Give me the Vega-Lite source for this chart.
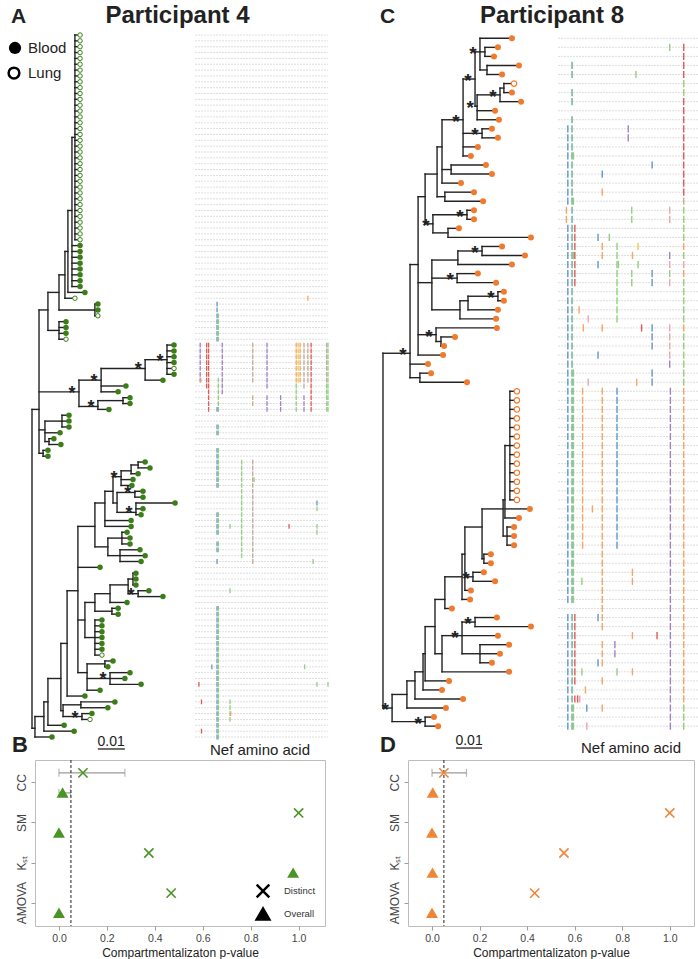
{
"padding": {"left": 3, "top": 0, "right": 0, "bottom": 0},
"background": "white",
"bounds": "full",
"spacing": 0,
"config": {"font": "Liberation Sans", "view": {"stroke": null}},
"datasets": {
"treeA": [
{"id":"R1","p":"R0","d":2.6,"pd":0,"y":64},
{"id":"Na","p":"R1","d":5.9,"pd":2.6,"y":47},
{"id":"Nb","p":"Na","d":10,"pd":5.9,"y":44},
{"id":"Nc","p":"Nb","d":12.2,"pd":10,"y":41},
{"id":"Nd","p":"Nc","d":13.3,"pd":12.2,"y":37},
{"id":"Ne","p":"Nd","d":14.8,"pd":13.3,"y":30},
{"id":"Ne2","p":"Ne","d":15.9,"pd":14.8,"y":17.5},
{"id":"N3","p":"Nb","d":23.3,"pd":10,"y":47},
{"id":"N4","p":"Na","d":10,"pd":5.9,"y":50.5},
{"id":"S","p":"R1","d":17.4,"pd":2.6,"y":61,"s":1},
{"id":"S1","p":"S","d":25.6,"pd":17.4,"y":59,"s":1},
{"id":"S2","p":"S1","d":41.9,"pd":25.6,"y":57,"s":1},
{"id":"S3","p":"S2","d":50,"pd":41.9,"y":55.5,"s":1},
{"id":"S5","p":"S","d":24.4,"pd":17.4,"y":63.5,"s":1},
{"id":"S4","p":"S5","d":33.7,"pd":24.4,"y":62.5},
{"id":"T2","p":"R1","d":4.8,"pd":2.6,"y":67.5},
{"id":"T3","p":"T2","d":11.1,"pd":4.8,"y":66},
{"id":"T2b","p":"T2","d":6.3,"pd":4.8,"y":69.5},
{"id":"Tc","p":"R1","d":4.1,"pd":2.6,"y":71.5},
{"id":"M30","p":"R0","d":1.1,"pd":0,"y":118.5},
{"id":"M39","p":"M30","d":4.4,"pd":1.1,"y":116.5},
{"id":"M43","p":"M39","d":5.9,"pd":4.4,"y":114},
{"id":"M56","p":"M43","d":10.7,"pd":5.9,"y":110},
{"id":"M62","p":"M56","d":13,"pd":10.7,"y":104},
{"id":"Lmn","p":"M56","d":11.5,"pd":10.7,"y":115.5},
{"id":"Lm","p":"Lmn","d":18.1,"pd":11.5,"y":114.5},
{"id":"Ln","p":"Lmn","d":18.5,"pd":11.5,"y":116.5,"s":1},
{"id":"M72","p":"M62","d":17,"pd":13,"y":95},
{"id":"U","p":"M72","d":23.3,"pd":17,"y":84},
{"id":"Lg","p":"M72","d":19.6,"pd":17,"y":100},
{"id":"Lk","p":"M72","d":20.4,"pd":17,"y":109},
{"id":"U3","p":"U","d":27,"pd":23.3,"y":80},
{"id":"U4","p":"U","d":28.1,"pd":23.3,"y":87.5},
{"id":"U12","p":"U3","d":30,"pd":27,"y":78},
{"id":"U1","p":"U12","d":33,"pd":30,"y":75.5,"s":1},
{"id":"U2","p":"U12","d":31.5,"pd":30,"y":80},
{"id":"Ub","p":"U1","d":36.7,"pd":33,"y":74.5},
{"id":"Ua","p":"Ub","d":39.3,"pd":36.7,"y":73.5},
{"id":"U2a","p":"U2","d":38.1,"pd":31.5,"y":78.2,"s":1},
{"id":"U2b","p":"U2","d":38.5,"pd":31.5,"y":81.6,"s":1},
{"id":"U4a","p":"U4","d":33.3,"pd":28.1,"y":86},
{"id":"U4b","p":"U4","d":32.6,"pd":28.1,"y":89},
{"id":"Le","p":"Lg","d":23.3,"pd":19.6,"y":97},
{"id":"Lf","p":"Lg","d":23.3,"pd":19.6,"y":103},
{"id":"Lc","p":"Le","d":28.9,"pd":23.3,"y":95.5},
{"id":"Ld","p":"Le","d":29.6,"pd":23.3,"y":98.5},
{"id":"Lab","p":"Lc","d":35.6,"pd":28.9,"y":94},
{"id":"La","p":"Lab","d":37.4,"pd":35.6,"y":93},
{"id":"Lb","p":"Lab","d":39.3,"pd":35.6,"y":95.5,"s":1},
{"id":"Li","p":"Lk","d":27,"pd":20.4,"y":107.5},
{"id":"Lj","p":"Lk","d":28.9,"pd":20.4,"y":110,"s":1},
{"p":"Ne2","d":17.8,"pd":15.9,"y":0,"t":"L"},
{"p":"Ne2","d":17.8,"pd":15.9,"y":1,"t":"L"},
{"p":"Ne2","d":17.8,"pd":15.9,"y":2,"t":"L"},
{"p":"Ne2","d":17.8,"pd":15.9,"y":3,"t":"L"},
{"p":"Ne2","d":17.8,"pd":15.9,"y":4,"t":"L"},
{"p":"Ne2","d":17.8,"pd":15.9,"y":5,"t":"L"},
{"p":"Ne2","d":17.8,"pd":15.9,"y":6,"t":"L"},
{"p":"Ne2","d":17.8,"pd":15.9,"y":7,"t":"L"},
{"p":"Ne2","d":17.8,"pd":15.9,"y":8,"t":"L"},
{"p":"Ne2","d":17.8,"pd":15.9,"y":9,"t":"L"},
{"p":"Ne2","d":17.8,"pd":15.9,"y":10,"t":"L"},
{"p":"Ne2","d":17.8,"pd":15.9,"y":11,"t":"L"},
{"p":"Ne2","d":17.8,"pd":15.9,"y":12,"t":"L"},
{"p":"Ne2","d":17.8,"pd":15.9,"y":13,"t":"L"},
{"p":"Ne2","d":17.8,"pd":15.9,"y":14,"t":"L"},
{"p":"Ne2","d":17.8,"pd":15.9,"y":15,"t":"L"},
{"p":"Ne2","d":17.8,"pd":15.9,"y":16,"t":"L"},
{"p":"Ne2","d":17.8,"pd":15.9,"y":17,"t":"L"},
{"p":"Ne2","d":17.8,"pd":15.9,"y":18,"t":"L"},
{"p":"Ne2","d":17.8,"pd":15.9,"y":19,"t":"L"},
{"p":"Ne2","d":17.8,"pd":15.9,"y":20,"t":"L"},
{"p":"Ne2","d":17.8,"pd":15.9,"y":21,"t":"L"},
{"p":"Ne2","d":17.8,"pd":15.9,"y":22,"t":"L"},
{"p":"Ne2","d":17.8,"pd":15.9,"y":23,"t":"L"},
{"p":"Ne2","d":17.8,"pd":15.9,"y":24,"t":"L"},
{"p":"Ne2","d":17.8,"pd":15.9,"y":25,"t":"L"},
{"p":"Ne2","d":17.8,"pd":15.9,"y":26,"t":"L"},
{"p":"Ne2","d":17.8,"pd":15.9,"y":27,"t":"L"},
{"p":"Ne2","d":17.8,"pd":15.9,"y":28,"t":"L"},
{"p":"Ne2","d":17.8,"pd":15.9,"y":29,"t":"L"},
{"p":"Ne2","d":17.8,"pd":15.9,"y":30,"t":"L"},
{"p":"Ne2","d":17.8,"pd":15.9,"y":31,"t":"L"},
{"p":"Ne2","d":17.8,"pd":15.9,"y":32,"t":"L"},
{"p":"Ne2","d":17.8,"pd":15.9,"y":33,"t":"L"},
{"p":"Ne2","d":17.8,"pd":15.9,"y":34,"t":"L"},
{"p":"Ne2","d":17.8,"pd":15.9,"y":35,"t":"L"},
{"p":"Ne","d":17.8,"pd":14.8,"y":36,"t":"B"},
{"p":"Ne","d":17.8,"pd":14.8,"y":37,"t":"B"},
{"p":"Ne","d":17.8,"pd":14.8,"y":38,"t":"B"},
{"p":"Ne","d":17.8,"pd":14.8,"y":39,"t":"B"},
{"p":"Ne","d":17.8,"pd":14.8,"y":40,"t":"B"},
{"p":"Ne","d":17.8,"pd":14.8,"y":41,"t":"B"},
{"p":"Ne","d":17.8,"pd":14.8,"y":42,"t":"B"},
{"p":"Ne","d":17.8,"pd":14.8,"y":43,"t":"B"},
{"p":"Nd","d":19.6,"pd":13.3,"y":44,"t":"B"},
{"p":"Nc","d":15.9,"pd":12.2,"y":45,"t":"L"},
{"p":"N3","d":24.4,"pd":23.3,"y":46,"t":"B"},
{"p":"N3","d":24.4,"pd":23.3,"y":47,"t":"B"},
{"p":"N3","d":24.4,"pd":23.3,"y":48,"t":"L"},
{"p":"N4","d":12.6,"pd":10,"y":49,"t":"B"},
{"p":"N4","d":12.6,"pd":10,"y":50,"t":"B"},
{"p":"N4","d":12.6,"pd":10,"y":51,"t":"B"},
{"p":"N4","d":12.6,"pd":10,"y":52,"t":"L"},
{"p":"S3","d":52.6,"pd":50,"y":53,"t":"B"},
{"p":"S3","d":52.6,"pd":50,"y":54,"t":"B"},
{"p":"S3","d":52.6,"pd":50,"y":55,"t":"B"},
{"p":"S3","d":52.6,"pd":50,"y":56,"t":"B"},
{"p":"S3","d":52.6,"pd":50,"y":57,"t":"L"},
{"p":"S3","d":52.6,"pd":50,"y":58,"t":"B"},
{"p":"S2","d":48.5,"pd":41.9,"y":59,"t":"B"},
{"p":"S1","d":34.8,"pd":25.6,"y":60,"t":"B"},
{"p":"S1","d":31.9,"pd":25.6,"y":61,"t":"B"},
{"p":"S4","d":36.3,"pd":33.7,"y":62,"t":"B"},
{"p":"S4","d":36.3,"pd":33.7,"y":63,"t":"B"},
{"p":"S5","d":28.5,"pd":24.4,"y":64,"t":"B"},
{"p":"T3","d":13.7,"pd":11.1,"y":65,"t":"B"},
{"p":"T3","d":13.7,"pd":11.1,"y":66,"t":"B"},
{"p":"T3","d":13.7,"pd":11.1,"y":67,"t":"B"},
{"p":"T2","d":10.4,"pd":4.8,"y":68,"t":"B"},
{"p":"T2b","d":8.1,"pd":6.3,"y":69,"t":"B"},
{"p":"T2b","d":10.7,"pd":6.3,"y":70,"t":"B"},
{"p":"Tc","d":5.9,"pd":4.1,"y":71,"t":"B"},
{"p":"Tc","d":5.9,"pd":4.1,"y":72,"t":"B"},
{"p":"Ua","d":41.9,"pd":39.3,"y":73,"t":"B"},
{"p":"Ua","d":43.7,"pd":39.3,"y":74,"t":"B"},
{"p":"Ub","d":39.3,"pd":36.7,"y":75,"t":"B"},
{"p":"U1","d":37.4,"pd":33,"y":76,"t":"B"},
{"p":"U1","d":37,"pd":33,"y":77,"t":"B"},
{"p":"U2a","d":41.1,"pd":38.1,"y":78,"t":"B"},
{"p":"U2a","d":41.1,"pd":38.1,"y":79,"t":"B"},
{"p":"U2b","d":53,"pd":38.5,"y":80,"t":"B"},
{"p":"U2b","d":41.1,"pd":38.5,"y":81,"t":"B"},
{"p":"U2b","d":40.4,"pd":38.5,"y":82,"t":"B"},
{"p":"U3","d":36.7,"pd":27,"y":83,"t":"B"},
{"p":"U3","d":36.7,"pd":27,"y":84,"t":"B"},
{"p":"U4a","d":35.2,"pd":33.3,"y":85,"t":"B"},
{"p":"U4a","d":36.3,"pd":33.3,"y":86,"t":"B"},
{"p":"U4a","d":36.3,"pd":33.3,"y":87,"t":"B"},
{"p":"U4b","d":40,"pd":32.6,"y":88,"t":"B"},
{"p":"U4b","d":41.9,"pd":32.6,"y":89,"t":"B"},
{"p":"U4b","d":40.4,"pd":32.6,"y":90,"t":"B"},
{"p":"M72","d":25.2,"pd":17,"y":91,"t":"B"},
{"p":"La","d":38.5,"pd":37.4,"y":92,"t":"B"},
{"p":"La","d":38.5,"pd":37.4,"y":93,"t":"B"},
{"p":"La","d":38.5,"pd":37.4,"y":94,"t":"B"},
{"p":"Lb","d":43.3,"pd":39.3,"y":95,"t":"B"},
{"p":"Lb","d":48.5,"pd":39.3,"y":96,"t":"B"},
{"p":"Lc","d":35.2,"pd":28.9,"y":97,"t":"B"},
{"p":"Ld","d":31.9,"pd":29.6,"y":98,"t":"B"},
{"p":"Ld","d":31.9,"pd":29.6,"y":99,"t":"B"},
{"p":"Lf","d":25.9,"pd":23.3,"y":100,"t":"B"},
{"p":"Lf","d":25.9,"pd":23.3,"y":101,"t":"B"},
{"p":"Lf","d":25.9,"pd":23.3,"y":102,"t":"B"},
{"p":"Lf","d":25.9,"pd":23.3,"y":103,"t":"B"},
{"p":"Lf","d":25.9,"pd":23.3,"y":104,"t":"B"},
{"p":"Lf","d":25.9,"pd":23.3,"y":105,"t":"B"},
{"p":"Lf","d":25.9,"pd":23.3,"y":106,"t":"L"},
{"p":"Li","d":30,"pd":27,"y":107,"t":"B"},
{"p":"Li","d":28.1,"pd":27,"y":108,"t":"B"},
{"p":"Lj","d":36.3,"pd":28.9,"y":109,"t":"B"},
{"p":"Lj","d":34.4,"pd":28.9,"y":110,"t":"B"},
{"p":"Lj","d":40.4,"pd":28.9,"y":111,"t":"B"},
{"p":"Lk","d":25.2,"pd":20.4,"y":112,"t":"B"},
{"p":"M62","d":19.6,"pd":13,"y":113,"t":"B"},
{"p":"Lm","d":30.7,"pd":18.1,"y":114,"t":"B"},
{"p":"Lm","d":28.1,"pd":18.1,"y":115,"t":"B"},
{"p":"Ln","d":22.2,"pd":18.5,"y":116,"t":"B"},
{"p":"Ln","d":21.5,"pd":18.5,"y":117,"t":"L"},
{"p":"M43","d":11.9,"pd":5.9,"y":118,"t":"B"},
{"p":"M39","d":15.6,"pd":4.4,"y":119,"t":"B"},
{"p":"M30","d":7.4,"pd":1.1,"y":120,"t":"B"}
],
"treeC": [
{"id":"C28","p":"RC","d":10.4,"pd":0,"y":34.8,"s":1},
{"id":"CL18","p":"RC","d":3.5,"pd":0,"y":74,"s":1},
{"id":"C25","p":"C28","d":13.5,"pd":10.4,"y":25},
{"id":"C27","p":"C28","d":14.2,"pd":10.4,"y":37.5},
{"id":"C14","p":"C25","d":16.2,"pd":13.5,"y":17.5},
{"id":"C22","p":"C25","d":18.8,"pd":13.5,"y":27},
{"id":"C24","p":"C25","d":20.4,"pd":13.5,"y":32.75,"s":1},
{"id":"C10","p":"C14","d":20.8,"pd":16.2,"y":15},
{"id":"C12","p":"C14","d":19.2,"pd":16.2,"y":20.5,"s":1},
{"id":"C8","p":"C10","d":22.7,"pd":20.8,"y":12},
{"id":"C9","p":"C10","d":23.8,"pd":20.8,"y":17.5},
{"id":"C6","p":"C8","d":30.8,"pd":22.7,"y":9,"s":1},
{"id":"C7","p":"C8","d":26.2,"pd":22.7,"y":14.5},
{"id":"C13","p":"C6","d":35.4,"pd":30.8,"y":4.5,"s":1},
{"id":"C5","p":"C6","d":38.1,"pd":30.8,"y":10.5,"s":1},
{"id":"C1","p":"C13","d":37.3,"pd":35.4,"y":1.5,"s":1},
{"id":"C3","p":"C13","d":36.2,"pd":35.4,"y":7.5,"s":1},
{"id":"C1a","p":"C1","d":39.2,"pd":37.3,"y":1.5},
{"id":"C1b","p":"C1","d":40,"pd":37.3,"y":3.5},
{"id":"C2","p":"C3","d":45,"pd":36.2,"y":6.25,"s":1},
{"id":"C2a","p":"C2","d":46.5,"pd":45,"y":5.5},
{"id":"C11","p":"C12","d":32.3,"pd":19.2,"y":19.5,"s":1},
{"id":"C12a","p":"C12","d":25,"pd":19.2,"y":21.5},
{"id":"C16","p":"C22","d":28.8,"pd":18.8,"y":24.5},
{"id":"C15","p":"C16","d":38.1,"pd":28.8,"y":23.5,"s":1},
{"id":"C17","p":"C22","d":28.5,"pd":18.8,"y":26.5,"s":1},
{"id":"C20","p":"C22","d":29.6,"pd":18.8,"y":30},
{"id":"C19","p":"C20","d":32.7,"pd":29.6,"y":29},
{"id":"C18","p":"C19","d":44.2,"pd":32.7,"y":28.5,"s":1},
{"id":"C24a","p":"C24","d":22.3,"pd":20.4,"y":33.5},
{"id":"CL16","p":"CL18","d":9.2,"pd":3.5,"y":72.5},
{"id":"CL17","p":"CL18","d":16.2,"pd":3.5,"y":75.5,"s":1},
{"id":"CL15","p":"CL16","d":12.3,"pd":9.2,"y":71},
{"id":"CL14","p":"CL15","d":15.4,"pd":12.3,"y":70},
{"id":"CL13","p":"CL14","d":16.2,"pd":15.4,"y":68},
{"id":"CL12","p":"CL13","d":20,"pd":16.2,"y":65},
{"id":"CL9","p":"CL12","d":23.8,"pd":20,"y":62},
{"id":"CL11","p":"CL12","d":22.7,"pd":20,"y":68},
{"id":"CL8","p":"CL9","d":30.4,"pd":23.8,"y":59.5},
{"id":"CL7","p":"CL8","d":31.5,"pd":30.4,"y":57},
{"id":"CL5","p":"CL7","d":38.1,"pd":31.5,"y":54},
{"id":"CL6","p":"CL7","d":34.6,"pd":31.5,"y":59.5,"s":1},
{"id":"CL4","p":"CL5","d":46.2,"pd":38.1,"y":52},
{"id":"CL5b","p":"CL5","d":38.8,"pd":38.1,"y":57.5},
{"id":"CL2","p":"CL4","d":46.9,"pd":46.2,"y":51},
{"id":"CL3","p":"CL4","d":47.7,"pd":46.2,"y":55},
{"id":"CL","p":"CL2","d":48.8,"pd":46.9,"y":45},
{"id":"CL10","p":"CL11","d":30.4,"pd":22.7,"y":66,"s":1},
{"id":"CL10a","p":"CL10","d":35.4,"pd":30.4,"y":64.5,"s":1},
{"id":"CL10b","p":"CL10","d":37.3,"pd":30.4,"y":68},
{"p":"C1","d":49.6,"pd":37.3,"y":0,"t":"B"},
{"p":"C1a","d":44.2,"pd":39.2,"y":1,"t":"B"},
{"p":"C1a","d":42.7,"pd":39.2,"y":2,"t":"B"},
{"p":"C1b","d":52.3,"pd":40,"y":3,"t":"B"},
{"p":"C1b","d":45.8,"pd":40,"y":4,"t":"B"},
{"p":"C2a","d":50.4,"pd":46.5,"y":5,"t":"L"},
{"p":"C2a","d":49.6,"pd":46.5,"y":6,"t":"B"},
{"p":"C2","d":53.1,"pd":45,"y":7,"t":"B"},
{"p":"C3","d":43.1,"pd":36.2,"y":8,"t":"B"},
{"p":"C3","d":44.6,"pd":36.2,"y":9,"t":"B"},
{"p":"C5","d":41.9,"pd":38.1,"y":10,"t":"B"},
{"p":"C5","d":44.2,"pd":38.1,"y":11,"t":"B"},
{"p":"C6","d":36.5,"pd":30.8,"y":12,"t":"B"},
{"p":"C6","d":33.8,"pd":30.8,"y":13,"t":"B"},
{"p":"C7","d":39.6,"pd":26.2,"y":14,"t":"B"},
{"p":"C7","d":41.9,"pd":26.2,"y":15,"t":"B"},
{"p":"C8","d":30,"pd":22.7,"y":16,"t":"B"},
{"p":"C9","d":35,"pd":23.8,"y":17,"t":"B"},
{"p":"C9","d":38.5,"pd":23.8,"y":18,"t":"B"},
{"p":"C11","d":35,"pd":32.3,"y":19,"t":"B"},
{"p":"C11","d":35,"pd":32.3,"y":20,"t":"B"},
{"p":"C12a","d":29.2,"pd":25,"y":21,"t":"B"},
{"p":"C12a","d":56.9,"pd":25,"y":22,"t":"B"},
{"p":"C15","d":45.8,"pd":38.1,"y":23,"t":"B"},
{"p":"C15","d":54.6,"pd":38.1,"y":24,"t":"B"},
{"p":"C16","d":49.6,"pd":28.8,"y":25,"t":"B"},
{"p":"C17","d":36.5,"pd":28.5,"y":26,"t":"B"},
{"p":"C17","d":43.5,"pd":28.5,"y":27,"t":"B"},
{"p":"C18","d":46.5,"pd":44.2,"y":28,"t":"B"},
{"p":"C18","d":46.5,"pd":44.2,"y":29,"t":"B"},
{"p":"C19","d":44.2,"pd":32.7,"y":30,"t":"B"},
{"p":"C20","d":43.5,"pd":29.6,"y":31,"t":"B"},
{"p":"C24","d":43.8,"pd":20.4,"y":32,"t":"B"},
{"p":"C24a","d":27.7,"pd":22.3,"y":33,"t":"B"},
{"p":"C24a","d":23.5,"pd":22.3,"y":34,"t":"B"},
{"p":"C25","d":23.1,"pd":13.5,"y":35,"t":"B"},
{"p":"C28","d":17.3,"pd":10.4,"y":36,"t":"B"},
{"p":"C27","d":18.5,"pd":14.2,"y":37,"t":"B"},
{"p":"C27","d":32.3,"pd":14.2,"y":38,"t":"B"},
{"p":"CL","d":51.5,"pd":48.8,"y":39,"t":"L"},
{"p":"CL","d":51.5,"pd":48.8,"y":40,"t":"L"},
{"p":"CL","d":51.5,"pd":48.8,"y":41,"t":"L"},
{"p":"CL","d":51.5,"pd":48.8,"y":42,"t":"L"},
{"p":"CL","d":51.5,"pd":48.8,"y":43,"t":"L"},
{"p":"CL","d":51.5,"pd":48.8,"y":44,"t":"L"},
{"p":"CL","d":51.5,"pd":48.8,"y":45,"t":"L"},
{"p":"CL","d":51.5,"pd":48.8,"y":46,"t":"L"},
{"p":"CL","d":51.5,"pd":48.8,"y":47,"t":"L"},
{"p":"CL","d":51.5,"pd":48.8,"y":48,"t":"L"},
{"p":"CL","d":51.5,"pd":48.8,"y":49,"t":"L"},
{"p":"CL","d":51.5,"pd":48.8,"y":50,"t":"L"},
{"p":"CL","d":51.5,"pd":48.8,"y":51,"t":"L"},
{"p":"CL2","d":56.5,"pd":46.9,"y":52,"t":"B"},
{"p":"CL2","d":52.3,"pd":46.9,"y":53,"t":"B"},
{"p":"CL3","d":50.4,"pd":47.7,"y":54,"t":"B"},
{"p":"CL3","d":50.4,"pd":47.7,"y":55,"t":"B"},
{"p":"CL3","d":50.4,"pd":47.7,"y":56,"t":"B"},
{"p":"CL5b","d":41.5,"pd":38.8,"y":57,"t":"B"},
{"p":"CL5b","d":41.5,"pd":38.8,"y":58,"t":"B"},
{"p":"CL6","d":38.8,"pd":34.6,"y":59,"t":"B"},
{"p":"CL6","d":43.1,"pd":34.6,"y":60,"t":"B"},
{"p":"CL7","d":33.8,"pd":31.5,"y":61,"t":"B"},
{"p":"CL8","d":33.5,"pd":30.4,"y":62,"t":"B"},
{"p":"CL9","d":26.5,"pd":23.8,"y":63,"t":"B"},
{"p":"CL10a","d":43.8,"pd":35.4,"y":64,"t":"B"},
{"p":"CL10a","d":56.9,"pd":35.4,"y":65,"t":"B"},
{"p":"CL10","d":44.2,"pd":30.4,"y":66,"t":"B"},
{"p":"CL10b","d":48.5,"pd":37.3,"y":67,"t":"B"},
{"p":"CL10b","d":45,"pd":37.3,"y":68,"t":"B"},
{"p":"CL10b","d":41.9,"pd":37.3,"y":69,"t":"B"},
{"p":"CL11","d":48.5,"pd":22.7,"y":70,"t":"B"},
{"p":"CL13","d":25.4,"pd":16.2,"y":71,"t":"B"},
{"p":"CL14","d":22.7,"pd":15.4,"y":72,"t":"B"},
{"p":"CL15","d":30.8,"pd":12.3,"y":73,"t":"B"},
{"p":"CL16","d":24.2,"pd":9.2,"y":74,"t":"B"},
{"p":"CL17","d":19.6,"pd":16.2,"y":75,"t":"B"},
{"p":"CL17","d":21.2,"pd":16.2,"y":76,"t":"B"}
],
"hlA": [
{"r1":45,"r2":45,"pos":175,"c":"o"},
{"r1":46,"r2":52,"pos":35,"c":"b"},
{"r1":48,"r2":52,"pos":37,"c":"g"},
{"r1":53,"r2":59,"pos":9,"c":"p"},
{"r1":59,"r2":59,"pos":10,"c":"o"},
{"r1":53,"r2":60,"pos":19,"c":"r"},
{"r1":53,"r2":64,"pos":22,"c":"r"},
{"r1":53,"r2":61,"pos":43,"c":"p"},
{"r1":59,"r2":64,"pos":37,"c":"g"},
{"r1":64,"r2":64,"pos":35,"c":"b"},
{"r1":53,"r2":59,"pos":90,"c":"n"},
{"r1":62,"r2":63,"pos":90,"c":"n"},
{"r1":53,"r2":60,"pos":112,"c":"p"},
{"r1":62,"r2":64,"pos":112,"c":"p"},
{"r1":62,"r2":64,"pos":133,"c":"p"},
{"r1":53,"r2":59,"pos":157,"c":"o"},
{"r1":60,"r2":64,"pos":157,"c":"g"},
{"r1":53,"r2":59,"pos":160,"c":"y"},
{"r1":53,"r2":59,"pos":163,"c":"o"},
{"r1":53,"r2":60,"pos":169,"c":"n"},
{"r1":62,"r2":64,"pos":169,"c":"p"},
{"r1":53,"r2":59,"pos":175,"c":"n"},
{"r1":53,"r2":64,"pos":180,"c":"r"},
{"r1":53,"r2":59,"pos":204,"c":"n"},
{"r1":60,"r2":64,"pos":204,"c":"g"},
{"r1":53,"r2":64,"pos":206,"c":"g"},
{"r1":67,"r2":68,"pos":35,"c":"b"},
{"r1":67,"r2":68,"pos":37,"c":"g"},
{"r1":71,"r2":77,"pos":35,"c":"b"},
{"r1":71,"r2":77,"pos":37,"c":"g"},
{"r1":73,"r2":89,"pos":73,"c":"g"},
{"r1":73,"r2":90,"pos":90,"c":"n"},
{"r1":76,"r2":76,"pos":92,"c":"g"},
{"r1":82,"r2":85,"pos":35,"c":"b"},
{"r1":82,"r2":85,"pos":37,"c":"g"},
{"r1":87,"r2":88,"pos":35,"c":"b"},
{"r1":87,"r2":88,"pos":37,"c":"g"},
{"r1":90,"r2":90,"pos":35,"c":"b"},
{"r1":80,"r2":80,"pos":189,"c":"b"},
{"r1":81,"r2":81,"pos":189,"c":"g"},
{"r1":84,"r2":85,"pos":189,"c":"g"},
{"r1":84,"r2":84,"pos":146,"c":"r"},
{"r1":84,"r2":84,"pos":55,"c":"g"},
{"r1":90,"r2":90,"pos":183,"c":"g"},
{"r1":95,"r2":95,"pos":55,"c":"g"},
{"r1":98,"r2":120,"pos":35,"c":"b"},
{"r1":98,"r2":120,"pos":37,"c":"g"},
{"r1":108,"r2":108,"pos":27,"c":"b"},
{"r1":108,"r2":108,"pos":170,"c":"g"},
{"r1":111,"r2":111,"pos":7,"c":"r"},
{"r1":111,"r2":111,"pos":189,"c":"g"},
{"r1":111,"r2":111,"pos":206,"c":"g"},
{"r1":114,"r2":114,"pos":11,"c":"r"},
{"r1":114,"r2":117,"pos":55,"c":"g"},
{"r1":116,"r2":116,"pos":56,"c":"o"},
{"r1":119,"r2":119,"pos":11,"c":"r"}
],
"hlC": [
{"r1":1,"r2":1,"pos":160,"c":"g"},
{"r1":1,"r2":4,"pos":180,"c":"r"},
{"r1":5,"r2":6,"pos":180,"c":"g"},
{"r1":7,"r2":17,"pos":180,"c":"r"},
{"r1":18,"r2":18,"pos":180,"c":"n"},
{"r1":19,"r2":22,"pos":180,"c":"g"},
{"r1":23,"r2":23,"pos":180,"c":"o"},
{"r1":24,"r2":24,"pos":180,"c":"g"},
{"r1":25,"r2":25,"pos":180,"c":"k"},
{"r1":26,"r2":26,"pos":180,"c":"o"},
{"r1":27,"r2":31,"pos":180,"c":"g"},
{"r1":32,"r2":32,"pos":180,"c":"o"},
{"r1":33,"r2":38,"pos":180,"c":"g"},
{"r1":39,"r2":73,"pos":180,"c":"o"},
{"r1":74,"r2":76,"pos":180,"c":"g"},
{"r1":3,"r2":4,"pos":21,"c":"t"},
{"r1":6,"r2":7,"pos":21,"c":"t"},
{"r1":9,"r2":62,"pos":21,"c":"t"},
{"r1":64,"r2":76,"pos":21,"c":"t"},
{"r1":4,"r2":4,"pos":112,"c":"g"},
{"r1":10,"r2":18,"pos":15,"c":"b"},
{"r1":19,"r2":20,"pos":13,"c":"o"},
{"r1":21,"r2":62,"pos":15,"c":"b"},
{"r1":64,"r2":76,"pos":15,"c":"b"},
{"r1":13,"r2":13,"pos":23,"c":"g"},
{"r1":18,"r2":18,"pos":23,"c":"g"},
{"r1":24,"r2":24,"pos":23,"c":"g"},
{"r1":37,"r2":62,"pos":23,"c":"g"},
{"r1":74,"r2":76,"pos":23,"c":"g"},
{"r1":21,"r2":27,"pos":25,"c":"r"},
{"r1":64,"r2":71,"pos":25,"c":"r"},
{"r1":73,"r2":73,"pos":25,"c":"r"},
{"r1":73,"r2":73,"pos":29,"c":"r"},
{"r1":73,"r2":73,"pos":32,"c":"k"},
{"r1":10,"r2":11,"pos":101,"c":"p"},
{"r1":14,"r2":14,"pos":135,"c":"b"},
{"r1":15,"r2":15,"pos":64,"c":"b"},
{"r1":17,"r2":17,"pos":64,"c":"o"},
{"r1":19,"r2":20,"pos":106,"c":"g"},
{"r1":19,"r2":20,"pos":160,"c":"k"},
{"r1":22,"r2":22,"pos":58,"c":"b"},
{"r1":22,"r2":22,"pos":74,"c":"g"},
{"r1":23,"r2":24,"pos":64,"c":"o"},
{"r1":23,"r2":31,"pos":85,"c":"g"},
{"r1":23,"r2":23,"pos":115,"c":"y"},
{"r1":24,"r2":24,"pos":107,"c":"o"},
{"r1":24,"r2":24,"pos":160,"c":"p"},
{"r1":25,"r2":25,"pos":58,"c":"b"},
{"r1":25,"r2":25,"pos":87,"c":"g"},
{"r1":25,"r2":25,"pos":115,"c":"g"},
{"r1":25,"r2":25,"pos":160,"c":"k"},
{"r1":26,"r2":27,"pos":106,"c":"g"},
{"r1":26,"r2":27,"pos":135,"c":"b"},
{"r1":26,"r2":26,"pos":160,"c":"g"},
{"r1":27,"r2":27,"pos":160,"c":"k"},
{"r1":30,"r2":30,"pos":31,"c":"o"},
{"r1":31,"r2":31,"pos":44,"c":"k"},
{"r1":32,"r2":32,"pos":37,"c":"o"},
{"r1":32,"r2":32,"pos":64,"c":"o"},
{"r1":32,"r2":32,"pos":120,"c":"r"},
{"r1":32,"r2":34,"pos":135,"c":"b"},
{"r1":32,"r2":35,"pos":160,"c":"k"},
{"r1":35,"r2":35,"pos":58,"c":"b"},
{"r1":36,"r2":36,"pos":160,"c":"p"},
{"r1":37,"r2":38,"pos":135,"c":"b"},
{"r1":38,"r2":38,"pos":44,"c":"k"},
{"r1":38,"r2":38,"pos":113,"c":"o"},
{"r1":39,"r2":56,"pos":36,"c":"o"},
{"r1":39,"r2":65,"pos":64,"c":"o"},
{"r1":39,"r2":56,"pos":85,"c":"b"},
{"r1":39,"r2":76,"pos":161,"c":"p"},
{"r1":52,"r2":52,"pos":50,"c":"o"},
{"r1":60,"r2":60,"pos":35,"c":"g"},
{"r1":59,"r2":60,"pos":107,"c":"o"},
{"r1":64,"r2":64,"pos":58,"c":"b"},
{"r1":66,"r2":66,"pos":107,"c":"o"},
{"r1":66,"r2":66,"pos":142,"c":"r"},
{"r1":67,"r2":68,"pos":82,"c":"p"},
{"r1":67,"r2":69,"pos":64,"c":"o"},
{"r1":71,"r2":71,"pos":64,"c":"o"},
{"r1":74,"r2":74,"pos":64,"c":"o"},
{"r1":69,"r2":69,"pos":58,"c":"b"},
{"r1":70,"r2":70,"pos":35,"c":"g"},
{"r1":70,"r2":70,"pos":85,"c":"g"},
{"r1":70,"r2":70,"pos":107,"c":"o"},
{"r1":72,"r2":72,"pos":40,"c":"o"},
{"r1":74,"r2":74,"pos":42,"c":"b"},
{"r1":76,"r2":76,"pos":42,"c":"k"}
]
},
"vconcat": [
{
"bounds": "flush",
"spacing": 0,
"resolve": {"scale": {"x": "independent", "y": "independent"}},
"hconcat": [
{
"width": 160, "height": 757,
"layer": [
{"data": {"name": "treeA"},
 "mark": {"type": "rule", "color": "#222222", "strokeWidth": 1.4, "strokeCap": "square"},
 "encoding": {
  "x": {"field": "pd", "type": "quantitative", "scale": {"domain": [1.111, 60.37], "nice": false, "zero": false}, "axis": null},
  "x2": {"field": "d"},
  "y": {"field": "y", "type": "quantitative", "scale": {"domain": [-5.983, 123.42], "reverse": true, "nice": false, "zero": false}, "axis": null}}},
{"data": {"name": "treeA"},
 "transform": [{"aggregate": [{"op": "min", "field": "y", "as": "y1"}, {"op": "max", "field": "y", "as": "y2"}], "groupby": ["p", "pd"]}],
 "mark": {"type": "rule", "color": "#222222", "strokeWidth": 1.4, "strokeCap": "square"},
 "encoding": {"x": {"field": "pd", "type": "quantitative"}, "y": {"field": "y1", "type": "quantitative"}, "y2": {"field": "y2"}}},
{"data": {"name": "treeA"}, "transform": [{"filter": "datum.t === 'B'"}],
 "mark": {"type": "circle", "size": 30, "color": "#3b7d17", "opacity": 1},
 "encoding": {"x": {"field": "d", "type": "quantitative"}, "y": {"field": "y", "type": "quantitative"}}},
{"data": {"name": "treeA"}, "transform": [{"filter": "datum.t === 'L'"}],
 "mark": {"type": "point", "shape": "circle", "size": 20, "filled": true, "fill": "white", "stroke": "#3b7d17", "strokeWidth": 1, "opacity": 1},
 "encoding": {"x": {"field": "d", "type": "quantitative"}, "y": {"field": "y", "type": "quantitative"}}},
{"data": {"name": "treeA"}, "transform": [{"filter": "datum.s === 1"}],
 "mark": {"type": "text", "text": "*", "fontSize": 18, "fontWeight": "bold", "dx": -7, "dy": 2, "color": "#222222", "align": "center", "baseline": "middle"},
 "encoding": {"x": {"field": "d", "type": "quantitative"}, "y": {"field": "y", "type": "quantitative"}}},
{"data": {"values": [{}]},
 "mark": {"type": "text", "text": "Participant 4", "fontSize": 24, "fontWeight": "bold", "align": "center", "baseline": "alphabetic", "color": "#222222"},
 "encoding": {"x": {"datum": 53.9}, "y": {"datum": -2.05}}},
{"data": {"values": [{}]},
 "mark": {"type": "text", "text": "A", "fontSize": 21, "fontWeight": "bold", "align": "left", "baseline": "alphabetic", "color": "#222222"},
 "encoding": {"x": {"datum": -7.8}, "y": {"datum": -2.05}}},
{"data": {"values": [{}]},
 "mark": {"type": "circle", "size": 150, "color": "black", "opacity": 1},
 "encoding": {"x": {"datum": -6.3}, "y": {"datum": 2.22}}},
{"data": {"values": [{}]},
 "mark": {"type": "point", "shape": "circle", "size": 115, "filled": true, "fill": "white", "stroke": "black", "strokeWidth": 2.5, "opacity": 1},
 "encoding": {"x": {"datum": -6.67}, "y": {"datum": 6.5}}},
{"data": {"values": [{}]},
 "mark": {"type": "text", "text": "Blood", "fontSize": 15, "align": "left", "baseline": "middle", "color": "#222222"},
 "encoding": {"x": {"datum": -1.48}, "y": {"datum": 2.22}}},
{"data": {"values": [{}]},
 "mark": {"type": "text", "text": "Lung", "fontSize": 15, "align": "left", "baseline": "middle", "color": "#222222"},
 "encoding": {"x": {"datum": -1.48}, "y": {"datum": 6.5}}},
{"data": {"values": [{}]},
 "mark": {"type": "text", "text": "0.01", "fontSize": 14, "align": "center", "baseline": "alphabetic", "color": "#222222"},
 "encoding": {"x": {"datum": 29.3}, "y": {"datum": 121.54}}},
{"data": {"values": [{}]},
 "mark": {"type": "rule", "strokeWidth": 1.3, "color": "#222222"},
 "encoding": {"x": {"datum": 24.4}, "x2": {"datum": 34.4}, "y": {"datum": 122.05}}},
{"data": {"values": [{}]},
 "mark": {"type": "text", "text": "B", "fontSize": 22, "fontWeight": "bold", "align": "left", "baseline": "alphabetic", "color": "#222222"},
 "encoding": {"x": {"datum": -7.4}, "y": {"datum": 122.56}}}
]
},
{
"width": 133, "height": 757,
"layer": [
{"data": {"name": "treeA"}, "transform": [{"filter": "isValid(datum.t)"}],
 "mark": {"type": "rule", "color": "#d6d6d6", "strokeWidth": 0.8, "strokeDash": [2, 1]},
 "encoding": {
  "x": {"datum": 1, "type": "quantitative", "scale": {"domain": [1, 206], "nice": false, "zero": false}, "axis": null},
  "x2": {"datum": 206},
  "y": {"field": "y", "type": "quantitative", "scale": {"domain": [-5.983, 123.42], "reverse": true, "nice": false, "zero": false}, "axis": null}}},
{"data": {"name": "hlA"},
 "mark": {"type": "rule", "strokeWidth": 1.3, "strokeDash": [4.8, 1.05], "yOffset": -2.4, "y2Offset": 2.4, "opacity": 0.95},
 "encoding": {
  "x": {"field": "pos", "type": "quantitative"},
  "y": {"field": "r1", "type": "quantitative"},
  "y2": {"field": "r2"},
  "color": {"field": "c", "type": "nominal", "scale": {"domain": ["b","g","t","r","o","p","n","k","y"], "range": ["#5b8fc7","#8ccc78","#62a596","#e0504a","#f5a05c","#9a7bbf","#c2a58f","#e8a2ad","#e5cf4a"]}, "legend": null}}},
{"data": {"values": [{}]},
 "mark": {"type": "text", "text": "Nef amino acid", "fontSize": 15, "align": "center", "baseline": "alphabetic", "color": "#222222"},
 "encoding": {"x": {"datum": 101.2}, "y": {"datum": 123.08}}}
]
},
{
"width": 230, "height": 757,
"layer": [
{"data": {"name": "treeC"},
 "mark": {"type": "rule", "color": "#222222", "strokeWidth": 1.4, "strokeCap": "square"},
 "encoding": {
  "x": {"field": "pd", "type": "quantitative", "scale": {"domain": [-21.15, 67.31], "nice": false, "zero": false}, "axis": null},
  "x2": {"field": "d"},
  "y": {"field": "y", "type": "quantitative", "scale": {"domain": [-4.232, 79.41], "reverse": true, "nice": false, "zero": false}, "axis": null}}},
{"data": {"name": "treeC"},
 "transform": [{"aggregate": [{"op": "min", "field": "y", "as": "y1"}, {"op": "max", "field": "y", "as": "y2"}], "groupby": ["p", "pd"]}],
 "mark": {"type": "rule", "color": "#222222", "strokeWidth": 1.4, "strokeCap": "square"},
 "encoding": {"x": {"field": "pd", "type": "quantitative"}, "y": {"field": "y1", "type": "quantitative"}, "y2": {"field": "y2"}}},
{"data": {"name": "treeC"}, "transform": [{"filter": "datum.t === 'B'"}],
 "mark": {"type": "circle", "size": 36, "color": "#f07b2e", "opacity": 1},
 "encoding": {"x": {"field": "d", "type": "quantitative"}, "y": {"field": "y", "type": "quantitative"}}},
{"data": {"name": "treeC"}, "transform": [{"filter": "datum.t === 'L'"}],
 "mark": {"type": "point", "shape": "circle", "size": 30, "filled": true, "fill": "white", "stroke": "#f07b2e", "strokeWidth": 1.2, "opacity": 1},
 "encoding": {"x": {"field": "d", "type": "quantitative"}, "y": {"field": "y", "type": "quantitative"}}},
{"data": {"name": "treeC"}, "transform": [{"filter": "datum.s === 1"}],
 "mark": {"type": "text", "text": "*", "fontSize": 19, "fontWeight": "bold", "dx": -7, "dy": 2, "color": "#222222", "align": "center", "baseline": "middle"},
 "encoding": {"x": {"field": "d", "type": "quantitative"}, "y": {"field": "y", "type": "quantitative"}}},
{"data": {"values": [{}]},
 "mark": {"type": "text", "text": "Participant 8", "fontSize": 24, "fontWeight": "bold", "align": "center", "baseline": "alphabetic", "color": "#222222"},
 "encoding": {"x": {"datum": 65}, "y": {"datum": -1.69}}},
{"data": {"values": [{}]},
 "mark": {"type": "text", "text": "C", "fontSize": 21, "fontWeight": "bold", "align": "left", "baseline": "alphabetic", "color": "#222222"},
 "encoding": {"x": {"datum": -1.15}, "y": {"datum": -1.69}}},
{"data": {"values": [{}]},
 "mark": {"type": "text", "text": "0.01", "fontSize": 14, "align": "center", "baseline": "alphabetic", "color": "#222222"},
 "encoding": {"x": {"datum": 33.1}, "y": {"datum": 78.09}}},
{"data": {"values": [{}]},
 "mark": {"type": "rule", "strokeWidth": 1.3, "color": "#222222"},
 "encoding": {"x": {"datum": 28.1}, "x2": {"datum": 38.1}, "y": {"datum": 78.42}}},
{"data": {"values": [{}]},
 "mark": {"type": "text", "text": "D", "fontSize": 22, "fontWeight": "bold", "align": "left", "baseline": "alphabetic", "color": "#222222"},
 "encoding": {"x": {"datum": -1.15}, "y": {"datum": 78.86}}}
]
},
{
"width": 144, "height": 757,
"layer": [
{"data": {"name": "treeC"}, "transform": [{"filter": "isValid(datum.t)"}],
 "mark": {"type": "rule", "color": "#d6d6d6", "strokeWidth": 0.8, "strokeDash": [2, 1]},
 "encoding": {
  "x": {"datum": 1, "type": "quantitative", "scale": {"domain": [1, 206], "nice": false, "zero": false}, "axis": null},
  "x2": {"datum": 206},
  "y": {"field": "y", "type": "quantitative", "scale": {"domain": [-4.232, 79.41], "reverse": true, "nice": false, "zero": false}, "axis": null}}},
{"data": {"name": "hlC"},
 "mark": {"type": "rule", "strokeWidth": 1.4, "strokeDash": [7.2, 1.85], "yOffset": -3.6, "y2Offset": 3.6, "opacity": 0.95},
 "encoding": {
  "x": {"field": "pos", "type": "quantitative"},
  "y": {"field": "r1", "type": "quantitative"},
  "y2": {"field": "r2"},
  "color": {"field": "c", "type": "nominal", "scale": {"domain": ["b","g","t","r","o","p","n","k","y"], "range": ["#5b8fc7","#8ccc78","#62a596","#e0504a","#f5a05c","#9a7bbf","#c2a58f","#e8a2ad","#e5cf4a"]}, "legend": null}}},
{"data": {"values": [{}]},
 "mark": {"type": "text", "text": "Nef amino acid", "fontSize": 15, "align": "center", "baseline": "alphabetic", "color": "#222222"},
 "encoding": {"x": {"datum": 104.9}, "y": {"datum": 78.97}}}
]
}
]
},
{
"spacing": 61,
"resolve": {"scale": {"x": "independent", "y": "independent", "yOffset": "independent", "shape": "independent", "fill": "independent", "stroke": "independent"}, "legend": {"shape": "independent"}},
"hconcat": [
{
"width": 290, "height": 166,
"view": {"stroke": "#bdbdbd"},
"data": {"values": [
 {"m":"CC","type":"Distinct","p":0.10,"lo":0,"hi":0.275,"grp":"Participant 4"},
 {"m":"CC","type":"Overall","p":0.015,"lo":0,"hi":0.048,"grp":"Participant 4"},
 {"m":"SM","type":"Distinct","p":1.0,"grp":"Participant 4"},
 {"m":"SM","type":"Overall","p":0.0,"grp":"Participant 4"},
 {"m":"Kₛₜ","type":"Distinct","p":0.375,"grp":"Participant 4"},
 {"m":"Kₛₜ","type":"Overall","p":0.977,"grp":"Participant 4"},
 {"m":"AMOVA","type":"Distinct","p":0.468,"grp":"Participant 4"},
 {"m":"AMOVA","type":"Overall","p":0.0,"grp":"Participant 4"}
]},
"layer": [
{"transform": [{"filter": "isValid(datum.lo)"}],
 "mark": {"type": "rule", "color": "#9a9a9a", "strokeWidth": 1.2},
 "encoding": {
  "x": {"field": "lo", "type": "quantitative"}, "x2": {"field": "hi"},
  "y": {"field": "m", "type": "nominal", "sort": ["CC","SM","Kₛₜ","AMOVA"], "scale": {"paddingInner": 0, "paddingOuter": 0.07}},
  "yOffset": {"field": "type", "type": "nominal", "sort": ["Distinct","Overall"], "scale": {"paddingInner": 0, "paddingOuter": 0}}}},
{"transform": [{"filter": "isValid(datum.lo)"}],
 "mark": {"type": "tick", "orient": "vertical", "size": 8, "thickness": 1.2, "color": "#9a9a9a"},
 "encoding": {
  "x": {"field": "lo", "type": "quantitative"},
  "y": {"field": "m", "type": "nominal", "sort": ["CC","SM","Kₛₜ","AMOVA"]},
  "yOffset": {"field": "type", "type": "nominal", "sort": ["Distinct","Overall"]}}},
{"transform": [{"filter": "isValid(datum.lo)"}],
 "mark": {"type": "tick", "orient": "vertical", "size": 8, "thickness": 1.2, "color": "#9a9a9a"},
 "encoding": {
  "x": {"field": "hi", "type": "quantitative"},
  "y": {"field": "m", "type": "nominal", "sort": ["CC","SM","Kₛₜ","AMOVA"]},
  "yOffset": {"field": "type", "type": "nominal", "sort": ["Distinct","Overall"]}}},
{"data": {"values": [{}]},
 "mark": {"type": "rule", "strokeDash": [3, 2], "color": "#222222", "strokeWidth": 1},
 "encoding": {"x": {"datum": 0.05, "type": "quantitative"}}},
{"mark": {"type": "point", "filled": true, "size": 85, "strokeWidth": 1.6, "opacity": 1},
 "encoding": {
  "x": {"field": "p", "type": "quantitative", "scale": {"domain": [-0.1, 1.11], "nice": false, "zero": false},
   "axis": {"title": "Compartmentalizaton p-value", "values": [0, 0.2, 0.4, 0.6, 0.8, 1], "format": ".1f", "grid": false, "domain": false, "tickColor": "#9e9e9e", "tickSize": 4, "labelFontSize": 10.5, "labelColor": "#444444", "titleFontSize": 12, "titleFontWeight": "normal", "titleColor": "#222222", "titlePadding": 4, "labelPadding": 3}},
  "y": {"field": "m", "type": "nominal", "sort": ["CC","SM","Kₛₜ","AMOVA"],
   "axis": {"title": null, "labelAngle": 270, "labelAlign": "center", "labelBaseline": "bottom", "labelFontSize": 12, "labelColor": "#444444", "domain": false, "tickColor": "#9e9e9e", "tickSize": 4, "labelPadding": 3}},
  "yOffset": {"field": "type", "type": "nominal", "sort": ["Distinct","Overall"]},
  "shape": {"field": "type", "type": "nominal", "scale": {"domain": ["Distinct","Overall"], "range": ["M-1,-1L1,1M-1,1L1,-1", "triangle-up"]},
   "legend": {"title": null, "orient": "none", "legendX": 220, "legendY": 123, "symbolFillColor": "black", "symbolStrokeColor": "black", "symbolStrokeWidth": 2.5, "symbolSize": 160, "labelFontSize": 9.5, "labelOffset": 13, "rowPadding": 0, "labelColor": "#333333"}},
  "fill": {"field": "grp", "type": "nominal", "scale": {"range": ["#4a9424"]}, "legend": null},
  "stroke": {"field": "grp", "type": "nominal", "scale": {"range": ["#4a9424"]}, "legend": null}}}
]
},
{
"width": 286, "height": 166,
"view": {"stroke": "#bdbdbd"},
"data": {"values": [
 {"m":"CC","type":"Distinct","p":0.05,"lo":0,"hi":0.145},
 {"m":"CC","type":"Overall","p":0.003},
 {"m":"SM","type":"Distinct","p":1.0},
 {"m":"SM","type":"Overall","p":0.0},
 {"m":"Kₛₜ","type":"Distinct","p":0.555},
 {"m":"Kₛₜ","type":"Overall","p":0.002},
 {"m":"AMOVA","type":"Distinct","p":0.432},
 {"m":"AMOVA","type":"Overall","p":0.0}
]},
"layer": [
{"transform": [{"filter": "isValid(datum.lo)"}],
 "mark": {"type": "rule", "color": "#9a9a9a", "strokeWidth": 1.2},
 "encoding": {
  "x": {"field": "lo", "type": "quantitative"}, "x2": {"field": "hi"},
  "y": {"field": "m", "type": "nominal", "sort": ["CC","SM","Kₛₜ","AMOVA"], "scale": {"paddingInner": 0, "paddingOuter": 0.07}},
  "yOffset": {"field": "type", "type": "nominal", "sort": ["Distinct","Overall"], "scale": {"paddingInner": 0, "paddingOuter": 0}}}},
{"transform": [{"filter": "isValid(datum.lo)"}],
 "mark": {"type": "tick", "orient": "vertical", "size": 8, "thickness": 1.2, "color": "#9a9a9a"},
 "encoding": {
  "x": {"field": "lo", "type": "quantitative"},
  "y": {"field": "m", "type": "nominal", "sort": ["CC","SM","Kₛₜ","AMOVA"]},
  "yOffset": {"field": "type", "type": "nominal", "sort": ["Distinct","Overall"]}}},
{"transform": [{"filter": "isValid(datum.lo)"}],
 "mark": {"type": "tick", "orient": "vertical", "size": 8, "thickness": 1.2, "color": "#9a9a9a"},
 "encoding": {
  "x": {"field": "hi", "type": "quantitative"},
  "y": {"field": "m", "type": "nominal", "sort": ["CC","SM","Kₛₜ","AMOVA"]},
  "yOffset": {"field": "type", "type": "nominal", "sort": ["Distinct","Overall"]}}},
{"data": {"values": [{}]},
 "mark": {"type": "rule", "strokeDash": [3, 2], "color": "#222222", "strokeWidth": 1},
 "encoding": {"x": {"datum": 0.05, "type": "quantitative"}}},
{"mark": {"type": "point", "filled": true, "size": 85, "strokeWidth": 1.6, "opacity": 1, "fill": "#ef8536", "stroke": "#ef8536"},
 "encoding": {
  "x": {"field": "p", "type": "quantitative", "scale": {"domain": [-0.101, 1.102], "nice": false, "zero": false},
   "axis": {"title": "Compartmentalizaton p-value", "values": [0, 0.2, 0.4, 0.6, 0.8, 1], "format": ".1f", "grid": false, "domain": false, "tickColor": "#9e9e9e", "tickSize": 4, "labelFontSize": 10.5, "labelColor": "#444444", "titleFontSize": 12, "titleFontWeight": "normal", "titleColor": "#222222", "titlePadding": 4, "labelPadding": 3}},
  "y": {"field": "m", "type": "nominal", "sort": ["CC","SM","Kₛₜ","AMOVA"],
   "axis": {"title": null, "labelAngle": 270, "labelAlign": "center", "labelBaseline": "bottom", "labelFontSize": 12, "labelColor": "#444444", "domain": false, "tickColor": "#9e9e9e", "tickSize": 4, "labelPadding": 3}},
  "yOffset": {"field": "type", "type": "nominal", "sort": ["Distinct","Overall"]},
  "shape": {"field": "type", "type": "nominal", "scale": {"domain": ["Distinct","Overall"], "range": ["M-1,-1L1,1M-1,1L1,-1", "triangle-up"]}, "legend": null}}}
]
}
]
}
]
}
